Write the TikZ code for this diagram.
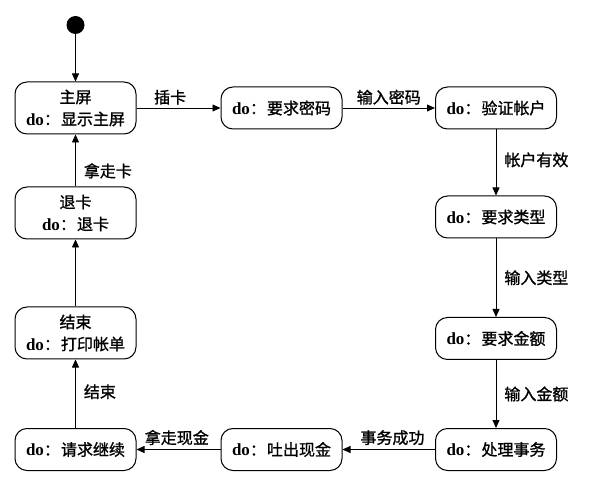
\documentclass[tikz,border=0pt]{standalone}
\usepackage{fontspec}
\setmainfont{Liberation Serif}
\newfontfamily\cjk[FakeBold=1.2]{Noto Sans CJK SC}
\usetikzlibrary{arrows.meta}
\begin{document}
\begin{tikzpicture}[x=1pt,y=-1pt,
  statebox/.style={draw,line width=1pt,rounded corners=12pt,minimum width=121pt,
    align=center,inner sep=2pt,font=\fontsize{16}{22}\selectfont\cjk},
  onel/.style={statebox,minimum height=42pt},
  twol/.style={statebox,minimum height=52pt},
  conn/.style={line width=0.8pt,-{Triangle[length=8pt,width=7pt]}},
  lbl/.style={font=\fontsize{16}{18}\selectfont\cjk,inner sep=1pt}]
\useasboundingbox (0,0) rectangle (603,497);
\newcommand{\dolbl}{{\fontsize{17}{22}\selectfont\bfseries\rmfamily do}：\hspace{1pt}}
\node[circle,fill=black,minimum size=18pt,inner sep=0pt] (init) at (75.5,25) {};
\node[twol] (home) at (75.5,108) {主屏\\\dolbl 显示主屏};
\node[twol] (eject) at (75.5,213) {退卡\\\dolbl 退卡};
\node[twol] (fin) at (75.5,333) {结束\\\dolbl 打印帐单};
\node[onel] (cont) at (75.5,449.5) {\dolbl 请求继续};
\node[onel] (reqpin) at (281.5,108) {\dolbl 要求密码};
\node[onel] (verify) at (496,108) {\dolbl 验证帐户};
\node[onel] (reqtype) at (496,217) {\dolbl 要求类型};
\node[onel] (reqamt) at (496,338.5) {\dolbl 要求金额};
\node[onel] (proc) at (496,449.5) {\dolbl 处理事务};
\node[onel] (disp) at (281.5,449.5) {\dolbl 吐出现金};
\draw[conn] (init) -- (home);
\draw[conn] (home) -- node[lbl,above=2pt,pos=0.4] {插卡} (reqpin);
\draw[conn] (reqpin) -- node[lbl,above=2pt] {输入密码} (verify);
\draw[conn] (verify) -- node[lbl,right=7pt,pos=0.46] {帐户有效} (reqtype);
\draw[conn] (reqtype) -- node[lbl,right=7pt] {输入类型} (reqamt);
\draw[conn] (reqamt) -- node[lbl,right=7pt] {输入金额} (proc);
\draw[conn] (proc) -- node[lbl,above=3pt,pos=0.46] {事务成功} (disp);
\draw[conn] (disp) -- node[lbl,above=3pt,pos=0.52] {拿走现金} (cont);
\draw[conn] (cont) -- node[lbl,right=7pt,pos=0.53] {结束} (fin);
\draw[conn] (fin) -- (eject);
\draw[conn] (eject) -- node[lbl,right=7pt,pos=0.3] {拿走卡} (home);
\end{tikzpicture}
\end{document}
